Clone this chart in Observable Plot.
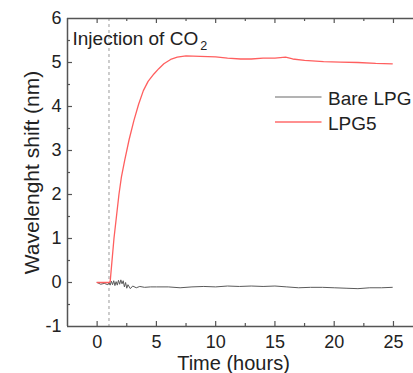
<!DOCTYPE html>
<html><head><meta charset="utf-8">
<script src="https://cdn.jsdelivr.net/npm/d3@7"></script>
<script src="https://cdn.jsdelivr.net/npm/@observablehq/plot@0.6"></script>
<style>
body{margin:0;background:#fff;}
#chart{position:relative;width:413px;height:373px;overflow:hidden;}
</style>
</head><body><div id="chart"></div>
<script>
// ---- data ----
const bareTime  = [0,0.3,0.6,0.9,1.0,1.1,1.2,1.3,1.4,1.5,1.6,1.7,1.8,1.9,2.0,2.1,2.2,2.3,2.4,2.5,2.6,2.8,3.0,3.3,3.6,4.0,4.5,5,6,7,8,9,10,11,12,13,14,15,16,17,18,19,20,21,22,23,24,24.9];
const bareShift = [0,-0.04,-0.02,-0.05,0.0,-0.06,0.03,-0.05,0.04,-0.07,0.02,-0.06,0.05,-0.04,0.06,-0.03,0.04,-0.1,0.0,-0.13,-0.05,-0.14,-0.08,-0.12,-0.09,-0.11,-0.1,-0.1,-0.1,-0.12,-0.1,-0.09,-0.1,-0.08,-0.09,-0.08,-0.09,-0.08,-0.1,-0.12,-0.11,-0.11,-0.12,-0.13,-0.14,-0.12,-0.12,-0.11];
const lpgTime  = [0,1.0,1.1,1.42,1.63,1.84,2.05,2.32,2.7,3.1,3.5,3.9,4.3,4.79,5.2,5.63,6.2,6.76,7.5,8.7,10,11,12.1,13,14,15,15.9,16.5,17.5,19.1,20.5,22,23.5,24.9];
const lpgShift = [0,0,0.02,1.0,1.5,2.0,2.4,2.77,3.25,3.68,4.05,4.36,4.57,4.74,4.86,4.97,5.07,5.12,5.15,5.14,5.13,5.1,5.08,5.08,5.1,5.1,5.12,5.08,5.05,5.02,5.01,5.0,4.98,4.97];
const seriesNames  = ["Bare LPG", "LPG5"];
const seriesColors = ["#5a5a5a", "#ff5f5f"];
const legendColors = ["#9a9a9a", "#ff6b6b"];
const injectionTime = 1;
const xMajor = [0,5,10,15,20,25];
const xMinor = [2.5,7.5,12.5,17.5,22.5];
const yMajor = [-1,0,1,2,3,4,5,6];
const yMinor = [-0.5,0.5,1.5,2.5,3.5,4.5,5.5];
const xTitle = "Time (hours)";
const yTitle = "Wavelenght shift (nm)";
const annotation = "Injection of CO";
const annotationSub = "2";

// ---- layout ----
const W = 413, H = 373, mL = 67, mR = 0, mT = 18, mB = 47;
const pW = W - mL - mR, pH = H - mT - mB;
const axisColor = "#555";
const textColor = "#222";
const font = "'Liberation Sans', Arial, sans-serif";

const bare = bareTime.map((t, i) => ({t, v: bareShift[i]}));
const lpg  = lpgTime.map((t, i) => ({t, v: lpgShift[i]}));

const plot = Plot.plot({
  width: W, height: H,
  marginLeft: mL, marginRight: mR, marginTop: mT, marginBottom: mB,
  style: {fontFamily: font, fontSize: "18px", color: textColor, background: "#fff"},
  x: {domain: [-2.5, 26.69]},
  y: {domain: [-1, 6]},
  marks: [
    Plot.ruleX([injectionTime], {stroke: "#9a9a9a", strokeDasharray: "3,3", strokeWidth: 1}),
    Plot.line(bare, {x: "t", y: "v", stroke: seriesColors[0], strokeWidth: 1}),
    Plot.line(lpg, {x: "t", y: "v", stroke: seriesColors[1], strokeWidth: 1.3}),
    // frame
    Plot.ruleX([-2.5], {stroke: axisColor, strokeWidth: 1.5}),
    Plot.ruleY([-1, 6], {stroke: axisColor, strokeWidth: 1.5}),
    // inward ticks
    Plot.ruleX(xMajor, {stroke: axisColor, strokeWidth: 1.2, insetTop: pH - 5}),
    Plot.ruleX(xMajor, {stroke: axisColor, strokeWidth: 1.2, insetBottom: pH - 5}),
    Plot.ruleX(xMinor, {stroke: axisColor, strokeWidth: 1.2, insetTop: pH - 3}),
    Plot.ruleX(xMinor, {stroke: axisColor, strokeWidth: 1.2, insetBottom: pH - 3}),
    Plot.ruleY(yMajor.slice(1, -1), {stroke: axisColor, strokeWidth: 1.2, insetRight: pW - 5}),
    Plot.ruleY(yMinor, {stroke: axisColor, strokeWidth: 1.2, insetRight: pW - 3}),
    // tick labels
    Plot.axisX(xMajor, {anchor: "bottom", tickSize: 0, tickPadding: 8.8, label: null, tickFormat: d => String(d), fill: textColor}),
    Plot.axisY(yMajor, {anchor: "left", tickSize: 0, tickPadding: 6, label: null, tickFormat: d => String(d), fill: textColor}),
    // axis titles
    Plot.text([xTitle], {text: d => d, frameAnchor: "bottom", textAnchor: "middle", dx: -7, dy: 37.1, lineAnchor: "middle", fontSize: 20, fill: textColor}),
    Plot.text([yTitle], {text: d => d, frameAnchor: "left", textAnchor: "middle", rotate: -90, dx: -35.7, lineAnchor: "middle", fontSize: 21, fill: textColor})
  ]
});

document.getElementById("chart").appendChild(plot);

// annotation & legend
const svg = d3.select(plot);
const ann = svg.append("text")
  .attr("x", 72.5).attr("y", 45)
  .attr("text-anchor", "start")
  .attr("fill", textColor).attr("font-size", 19)
  .attr("font-family", font);
ann.append("tspan").text(annotation);
ann.append("tspan").attr("dx", 2).attr("dy", 5).attr("font-size", 12.5).text(annotationSub);

const leg = svg.append("g").attr("font-family", font);
seriesNames.forEach((name, i) => {
  const yy = 97 + i * 25;
  leg.append("line").attr("x1", 275).attr("x2", 321.5).attr("y1", yy).attr("y2", yy)
    .attr("stroke", legendColors[i]).attr("stroke-width", 1.3);
  leg.append("text").attr("x", 328).attr("y", yy + 8).attr("font-size", 19)
    .attr("text-anchor", "start")
    .attr("fill", textColor).text(name);
});
</script>
</body></html>
